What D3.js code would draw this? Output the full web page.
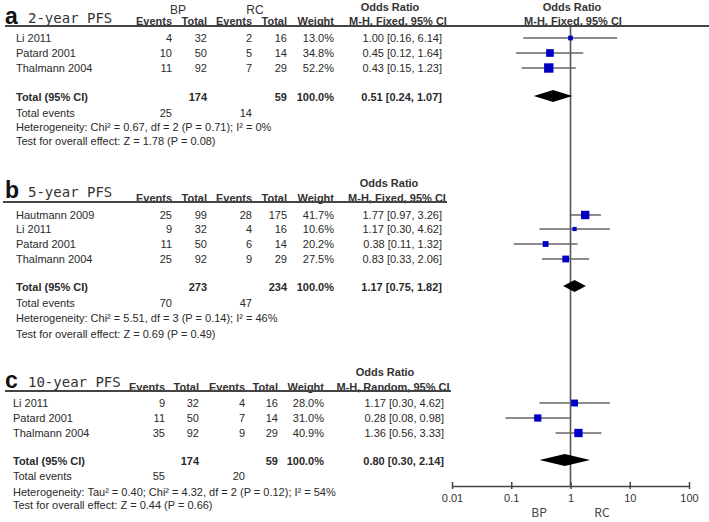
<!DOCTYPE html>
<html><head><meta charset="utf-8">
<script src="https://cdn.jsdelivr.net/npm/d3@7"></script>
<style>
html,body{margin:0;padding:0;background:#fff;}
svg{display:block;}
text{font-family:"Liberation Sans",Arial,sans-serif;fill:#2a2a2a;}
</style></head>
<body>
<script>
// ---------- DATA ----------
const ticks = [0.01, 0.1, 1, 10, 100];
const tickLabels = ["0.01", "0.1", "1", "10", "100"];
const favourLabels = ["BP", "RC"];

// a: 2-year PFS
const studiesA = ["Li 2011", "Patard 2001", "Thalmann 2004"];
const evBPA = [4, 10, 11];
const totBPA = [32, 50, 92];
const evRCA = [2, 5, 7];
const totRCA = [16, 14, 29];
const weightA = [13.0, 34.8, 52.2];
const orA = [1.00, 0.45, 0.43];
const loA = [0.16, 0.12, 0.15];
const hiA = [6.14, 1.64, 1.23];
const sumA = {n1: 174, n2: 59, e1: 25, e2: 14, or: 0.51, lo: 0.24, hi: 1.07};
const hetA = "Heterogeneity: Chi² = 0.67, df = 2 (P = 0.71); I² = 0%";
const testA = "Test for overall effect: Z = 1.78 (P = 0.08)";

// b: 5-year PFS
const studiesB = ["Hautmann 2009", "Li 2011", "Patard 2001", "Thalmann 2004"];
const evBPB = [25, 9, 11, 25];
const totBPB = [99, 32, 50, 92];
const evRCB = [28, 4, 6, 9];
const totRCB = [175, 16, 14, 29];
const weightB = [41.7, 10.6, 20.2, 27.5];
const orB = [1.77, 1.17, 0.38, 0.83];
const loB = [0.97, 0.30, 0.11, 0.33];
const hiB = [3.26, 4.62, 1.32, 2.06];
const sumB = {n1: 273, n2: 234, e1: 70, e2: 47, or: 1.17, lo: 0.75, hi: 1.82};
const hetB = "Heterogeneity: Chi² = 5.51, df = 3 (P = 0.14); I² = 46%";
const testB = "Test for overall effect: Z = 0.69 (P = 0.49)";

// c: 10-year PFS
const studiesC = ["Li 2011", "Patard 2001", "Thalmann 2004"];
const evBPC = [9, 11, 35];
const totBPC = [32, 50, 92];
const evRCC = [4, 7, 9];
const totRCC = [16, 14, 29];
const weightC = [28.0, 31.0, 40.9];
const orC = [1.17, 0.28, 1.36];
const loC = [0.30, 0.08, 0.56];
const hiC = [4.62, 0.98, 3.33];
const sumC = {n1: 174, n2: 59, e1: 55, e2: 20, or: 0.80, lo: 0.30, hi: 2.14};
const hetC = "Heterogeneity: Tau² = 0.40; Chi² = 4.32, df = 2 (P = 0.12); I² = 54%";
const testC = "Test for overall effect: Z = 0.44 (P = 0.66)";

// ---------- DRAW ----------
const W = 709, H = 522;
const svg = d3.select("body").append("svg").attr("width", W).attr("height", H);
const x = d3.scaleLog().domain([0.01, 100]).range([452, 689]);
const f2 = d3.format(".2f");
const f1 = d3.format(".1f");
const ciText = (o, l, h) => `${f2(o)} [${f2(l)}, ${f2(h)}]`;

function txt(g, s, xx, yy, opt = {}) {
  return g.append("text").attr("x", xx).attr("y", yy).attr("dy", "0.35em")
    .attr("text-anchor", opt.anchor || "start")
    .style("font-size", (opt.size || 11) + "px")
    .style("font-weight", opt.bold ? "bold" : "normal")
    .style("font-family", opt.family || null)
    .style("fill", opt.fill || null)
    .style("letter-spacing", opt.ls || null)
    .text(s);
}

// central line of no effect
svg.append("line").attr("x1", x(1)).attr("x2", x(1)).attr("y1", 26).attr("y2", 486)
  .attr("stroke", "#555").attr("stroke-width", 1.6);

function section(L, D) {
  const g = svg.append("g");
  // title
  g.append("text").attr("x", L.titleX).attr("y", L.titleBase).style("font-size", "23px")
    .style("font-weight", "bold").style("fill", "#111").style("font-family", "'Liberation Sans',Arial,sans-serif").text(L.letter);
  g.append("text").attr("x", L.titleX + 23).attr("y", L.titleBase - 1).style("font-size", "14px")
    .style("font-family", "'DejaVu Sans Mono',monospace").style("fill", "#333").text(L.title);
  if (L.groups) {
    txt(g, "BP", 178, L.groupY, {anchor: "middle", size: 12, fill: "#333"});
    txt(g, "RC", 255, L.groupY, {anchor: "middle", size: 12, fill: "#333"});
  }
  const c = L.cols;
  ["Events", "Total", "Events", "Total", "Weight"].forEach((h, i) =>
    txt(g, h, c[i + 1], L.headY, {anchor: "end", bold: true, fill: "#333"}));
  txt(g, "Odds Ratio", L.orHeadX, L.orHeadY, {anchor: "middle", bold: true, fill: "#333"});
  txt(g, D.method, L.mhX, L.headY, {anchor: "middle", bold: true, fill: "#333"});
  if (L.rightHead) {
    txt(g, "Odds Ratio", 572, L.orHeadY, {anchor: "middle", bold: true, fill: "#333"});
    txt(g, D.method, 573, L.headY, {anchor: "middle", bold: true, fill: "#333"});
  }
  g.append("line").attr("x1", L.ruleX1).attr("x2", L.ruleX2).attr("y1", L.ruleY).attr("y2", L.ruleY)
    .attr("stroke", "#444").attr("stroke-width", 2);

  const rows = g.selectAll("g.row").data(D.studies.map((s, i) => i)).join("g").attr("class", "row");
  rows.each(function (i) {
    const r = d3.select(this), yy = L.rowY[i];
    txt(r, D.studies[i], c[0], yy);
    txt(r, D.e1[i], c[1], yy, {anchor: "end"});
    txt(r, D.n1[i], c[2], yy, {anchor: "end"});
    txt(r, D.e2[i], c[3], yy, {anchor: "end"});
    txt(r, D.n2[i], c[4], yy, {anchor: "end"});
    txt(r, f1(D.w[i]) + "%", c[5], yy, {anchor: "end"});
    txt(r, ciText(D.or[i], D.lo[i], D.hi[i]), c[6], yy, {anchor: "end"});
    r.append("line").attr("x1", x(D.lo[i])).attr("x2", x(D.hi[i])).attr("y1", yy).attr("y2", yy)
      .attr("stroke", "#666").attr("stroke-width", 1.5);
    const s = 1.3 * Math.sqrt(D.w[i]);
    r.append("rect").attr("x", x(D.or[i]) - s / 2).attr("y", yy - s / 2).attr("width", s).attr("height", s)
      .attr("fill", "#0000c4");
  });
  const S = D.sum;
  txt(g, "Total (95% CI)", c[0], L.totY, {bold: true});
  txt(g, S.n1, c[2], L.totY, {anchor: "end", bold: true});
  txt(g, S.n2, c[4], L.totY, {anchor: "end", bold: true});
  txt(g, "100.0%", c[5], L.totY, {anchor: "end", bold: true});
  txt(g, ciText(S.or, S.lo, S.hi), c[6], L.totY, {anchor: "end", bold: true});
  g.append("polygon").attr("points", [
    [x(S.lo), L.totY - 1], [x(S.or), L.totY - 7], [x(S.hi), L.totY - 1], [x(S.or), L.totY + 5]
  ].map(p => p.join(",")).join(" ")).attr("fill", "#000");
  txt(g, "Total events", c[0], L.evY);
  txt(g, S.e1, c[1], L.evY, {anchor: "end"});
  txt(g, S.e2, c[3], L.evY, {anchor: "end"});
  txt(g, D.het, c[0], L.hetY);
  txt(g, D.test, c[0], L.testY);
}

const colsAB = [16, 172, 207, 252, 287, 334, 442];
section({letter: "a", title: "2-year PFS", titleX: 5, titleBase: 24, groups: true, groupY: 10,
  headY: 21, orHeadY: 7, orHeadX: 390, mhX: 398, rightHead: true, ruleY: 26, ruleX1: 5, ruleX2: 709,
  cols: colsAB, rowY: [38, 53, 68], totY: 97, evY: 113, hetY: 127, testY: 141},
  {studies: studiesA, e1: evBPA, n1: totBPA, e2: evRCA, n2: totRCA, w: weightA, or: orA, lo: loA, hi: hiA,
   sum: sumA, het: hetA, test: testA, method: "M-H, Fixed, 95% CI"});

section({letter: "b", title: "5-year PFS", titleX: 5, titleBase: 198, groups: false,
  headY: 198, orHeadY: 183, orHeadX: 389, mhX: 397, rightHead: false, ruleY: 202, ruleX1: 3, ruleX2: 447,
  cols: colsAB, rowY: [215, 229, 244, 259], totY: 287, evY: 303, hetY: 318, testY: 334},
  {studies: studiesB, e1: evBPB, n1: totBPB, e2: evRCB, n2: totRCB, w: weightB, or: orB, lo: loB, hi: hiB,
   sum: sumB, het: hetB, test: testB, method: "M-H, Fixed, 95% CI"});

section({letter: "c", title: "10-year PFS", titleX: 5, titleBase: 388, groups: false,
  headY: 387, orHeadY: 372, orHeadX: 385, mhX: 393, rightHead: false, ruleY: 391, ruleX1: 5, ruleX2: 451,
  cols: [13, 165, 199, 245, 278, 324, 444], rowY: [403, 418, 433], totY: 461, evY: 476, hetY: 492, testY: 505},
  {studies: studiesC, e1: evBPC, n1: totBPC, e2: evRCC, n2: totRCC, w: weightC, or: orC, lo: loC, hi: hiC,
   sum: sumC, het: hetC, test: testC, method: "M-H, Random, 95% CI"});

// axis
const axis = d3.axisBottom(x).tickValues(ticks).tickFormat((d, i) => tickLabels[i]).tickSize(0).tickPadding(8);
const ag = svg.append("g").attr("transform", "translate(0,486)").call(axis);
ag.select(".domain").attr("stroke", "#444").attr("stroke-width", 1.5);
ag.selectAll(".tick text").style("font-size", "11px").style("fill", "#333")
  .style("font-family", "'Liberation Sans',Arial,sans-serif");
ag.selectAll(".tick").append("line").attr("y1", -4).attr("y2", 3).attr("stroke", "#444").attr("stroke-width", 1.5);
txt(svg, favourLabels[0], 539, 513, {anchor: "middle", size: 12, fill: "#444", family: "'Noto Sans CJK SC',sans-serif"});
txt(svg, favourLabels[1], 602, 513, {anchor: "middle", size: 12, fill: "#444", family: "'Noto Sans CJK SC',sans-serif"});
</script>
</body></html>
